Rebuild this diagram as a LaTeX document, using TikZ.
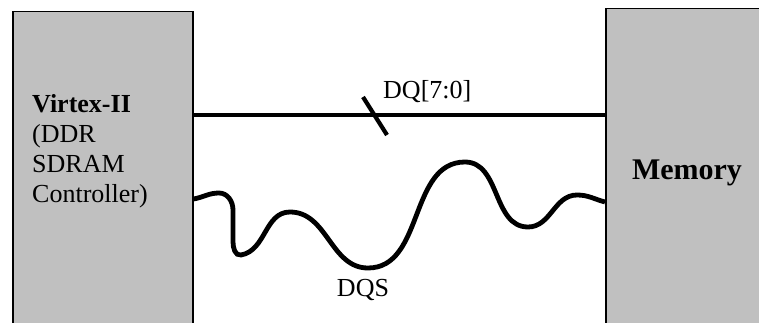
\documentclass[tikz,border=0pt]{standalone}
\usepackage{fontspec}
\setmainfont{Liberation Serif}
\usetikzlibrary{positioning,calc}
\definecolor{chipgray}{HTML}{C0C0C0}
\tikzstyle{chip} = [rectangle, draw, line width=1.5pt, fill=chipgray, anchor=north west]
\tikzstyle{bus} = [line width=4.8pt]
\tikzstyle{label} = [inner sep=0pt, font=\fontsize{26}{30}\selectfont]

\begin{document}
\begin{tikzpicture}[x=1pt, y=1pt]
    \useasboundingbox (0,0) rectangle (759,322);
    \clip (0,0) rectangle (759,322);
    \node[chip, minimum width=180pt, minimum height=330pt] (fpga) at (12,311) {};
    \node[chip, minimum width=170pt, minimum height=330pt] (mem) at (605,314) {};
    \node[label, anchor=north west, align=left] (ctrl) at (32,228)
        {\textbf{Virtex-II}\\(DDR\\SDRAM\\Controller)};
    \node[label, font=\fontsize{30}{34}\selectfont\bfseries] (memtxt) at (687,149) {Memory};

    \coordinate (dqL) at (fpga.east |- 0,207);
    \coordinate (dqR) at (mem.west |- 0,207);
    \coordinate (dqsL) at (fpga.east |- 0,123);
    \coordinate (dqsR) at (mem.west |- 0,120);

    % DQ bus with width mark
    \draw[bus] (dqL) -- (dqR);
    \draw[line width=4.2pt] (363,225) -- (387,187);
    \node[label, anchor=west] (dq) at (383,230) {DQ[7:0]};

    % DQS strobe
    \draw[bus] (dqsL) to[out=10,in=180] (219,129)
        to[out=0,in=90] (233,112) -- (233,80)
        to[out=-90,in=190] (241,67)
        to[out=10,in=180] (290,110)
        to[out=0,in=180] (368,54)
        to[out=0,in=180] (465,160)
        to[out=0,in=180] (528,95)
        to[out=0,in=180] (577,127)
        to[out=0,in=165] (dqsR);
    \node[label] (dqs) at (363,32) {DQS};
\end{tikzpicture}
\end{document}
